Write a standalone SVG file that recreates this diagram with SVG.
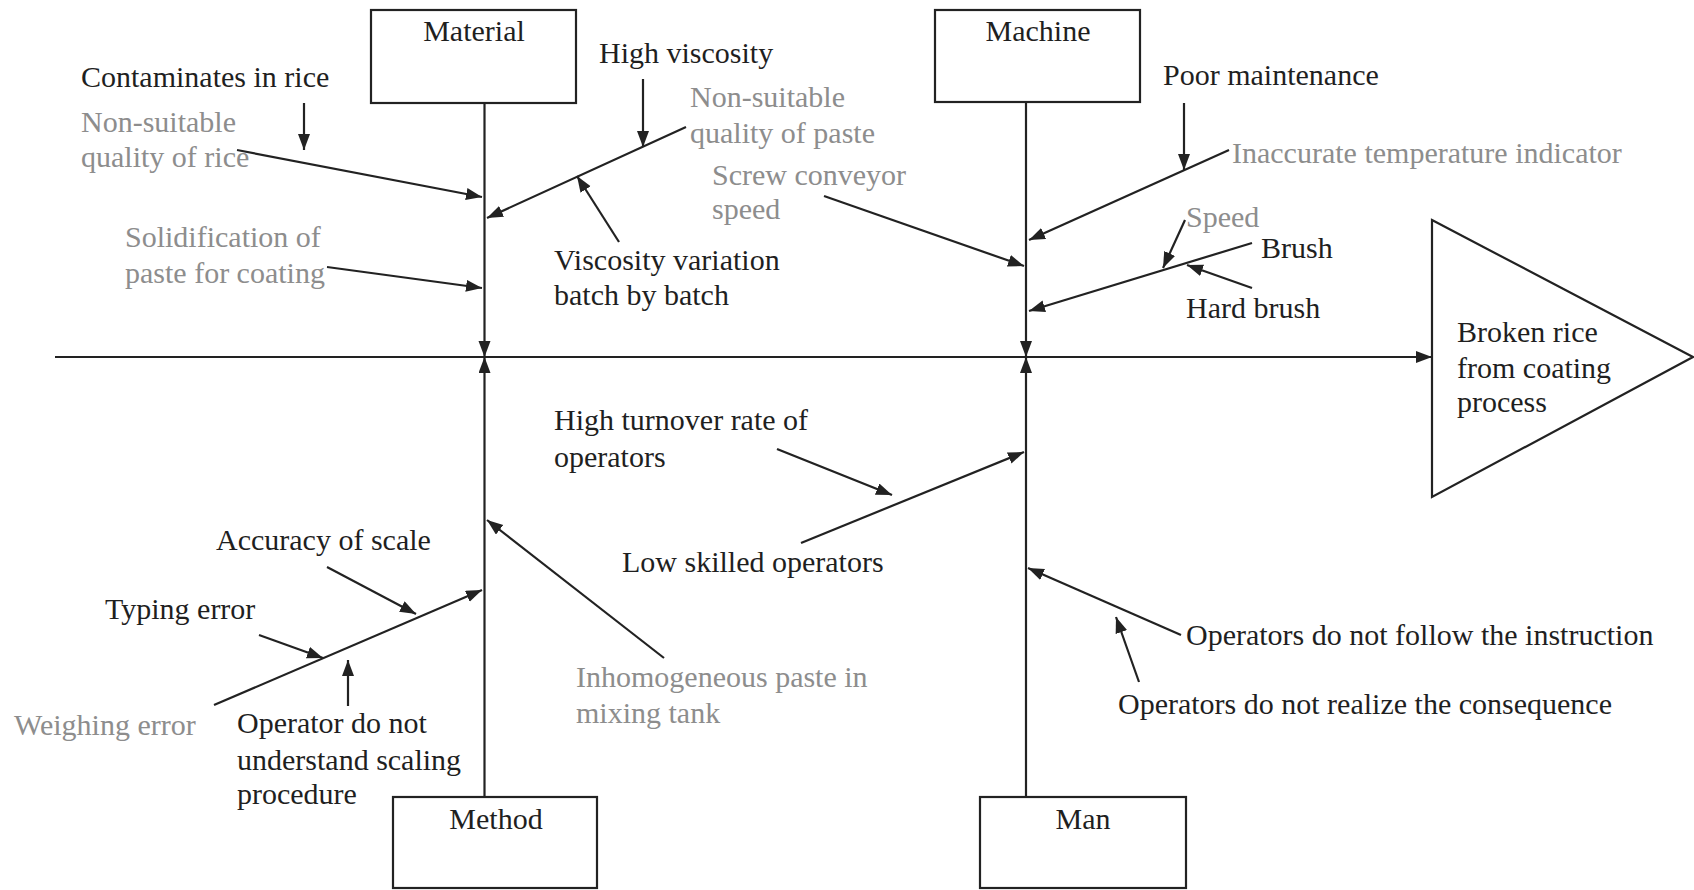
<svg xmlns="http://www.w3.org/2000/svg" width="1694" height="890" viewBox="0 0 1694 890">
  <style>
    text { font-family: "Liberation Serif", "Times New Roman", serif; font-size: 30px; fill: #1f1f1f; }
    text.grey { fill: #8d8d8d; }
    text.mid { text-anchor: middle; }
    .box { fill: #ffffff; stroke: #222; stroke-width: 2.2; }
    .ln { fill: none; stroke: #222; stroke-width: 2.2; }
    .arr { fill: none; stroke: #222; stroke-width: 2.2; marker-end: url(#head); }
  </style>
  <defs>
    <marker id="head" markerUnits="userSpaceOnUse" markerWidth="17" markerHeight="13" refX="16" refY="6" orient="auto">
      <path d="M0,0 L16,6 L0,12 z" fill="#222"/>
    </marker>
  </defs>
  <rect width="1694" height="890" fill="#ffffff"/>

  <!-- connectors: spine, category bones, sub-cause branches and arrows -->
  <g id="connectors">
    <line class="arr" x1="55" y1="357" x2="1432" y2="357"/>
    <line class="arr" x1="484.5" y1="103" x2="484.5" y2="357"/>
    <line class="arr" x1="484.5" y1="797" x2="484.5" y2="357"/>
    <line class="arr" x1="1026" y1="102" x2="1026" y2="357"/>
    <line class="arr" x1="1026" y1="797" x2="1026" y2="357"/>

    <!-- Material -->
    <line class="arr" x1="304" y1="103" x2="304" y2="150"/>
    <line class="arr" x1="237" y1="150" x2="482" y2="197"/>
    <line class="arr" x1="327" y1="267" x2="482" y2="288"/>
    <line class="arr" x1="686" y1="127" x2="487" y2="218"/>
    <line class="arr" x1="643" y1="79" x2="643" y2="147"/>
    <line class="arr" x1="619" y1="242" x2="577" y2="176"/>

    <!-- Machine -->
    <line class="arr" x1="824" y1="196" x2="1024" y2="266"/>
    <line class="arr" x1="1229" y1="150" x2="1029" y2="240"/>
    <line class="arr" x1="1184" y1="103" x2="1184" y2="170"/>
    <line class="arr" x1="1252" y1="243" x2="1029" y2="311"/>
    <line class="arr" x1="1185" y1="220" x2="1163" y2="268"/>
    <line class="arr" x1="1252" y1="288" x2="1187" y2="265"/>

    <!-- Method -->
    <line class="arr" x1="214" y1="705" x2="482" y2="590"/>
    <line class="arr" x1="327" y1="567" x2="416" y2="614"/>
    <line class="arr" x1="259" y1="635" x2="323" y2="658"/>
    <line class="arr" x1="348" y1="706" x2="348" y2="660"/>
    <line class="arr" x1="664" y1="658" x2="487" y2="520"/>

    <!-- Man -->
    <line class="arr" x1="801" y1="543" x2="1024" y2="452"/>
    <line class="arr" x1="777" y1="449" x2="892" y2="495"/>
    <line class="arr" x1="1181" y1="635" x2="1028" y2="568"/>
    <line class="arr" x1="1139" y1="682" x2="1116" y2="617"/>
  </g>

  <!-- category boxes -->
  <g id="material">
    <rect class="box" x="371" y="10" width="205" height="93"/>
    <text class="mid" x="474" y="41">Material</text>
  </g>
  <g id="machine">
    <rect class="box" x="935" y="10" width="205" height="92"/>
    <text class="mid" x="1038" y="41">Machine</text>
  </g>
  <g id="method">
    <rect class="box" x="393" y="797" width="204" height="91"/>
    <text class="mid" x="496" y="829">Method</text>
  </g>
  <g id="man">
    <rect class="box" x="980" y="797" width="206" height="91"/>
    <text class="mid" x="1083" y="829">Man</text>
  </g>

  <!-- effect -->
  <g id="effect">
    <polygon class="box" points="1432,220 1693,357 1432,497"/>
    <text x="1457" y="342">Broken rice</text>
    <text x="1457" y="378">from coating</text>
    <text x="1457" y="412">process</text>
  </g>

  <!-- Material causes -->
  <g id="contaminates"><text x="81" y="87">Contaminates in rice</text></g>
  <g id="rice-quality">
    <text class="grey" x="81" y="132">Non-suitable</text>
    <text class="grey" x="81" y="167">quality of rice</text>
  </g>
  <g id="solidification">
    <text class="grey" x="125" y="247">Solidification of</text>
    <text class="grey" x="125" y="283">paste for coating</text>
  </g>
  <g id="high-viscosity"><text x="599" y="63">High viscosity</text></g>
  <g id="paste-quality">
    <text class="grey" x="690" y="107">Non-suitable</text>
    <text class="grey" x="690" y="143">quality of paste</text>
  </g>
  <g id="viscosity-variation">
    <text x="554" y="270">Viscosity variation</text>
    <text x="554" y="305">batch by batch</text>
  </g>

  <!-- Machine causes -->
  <g id="screw-speed">
    <text class="grey" x="712" y="185">Screw conveyor</text>
    <text class="grey" x="712" y="219">speed</text>
  </g>
  <g id="poor-maintenance"><text x="1163" y="85">Poor maintenance</text></g>
  <g id="temperature-indicator"><text class="grey" x="1232" y="163">Inaccurate temperature indicator</text></g>
  <g id="speed"><text class="grey" x="1186" y="227">Speed</text></g>
  <g id="brush"><text x="1261" y="258">Brush</text></g>
  <g id="hard-brush"><text x="1186" y="318">Hard brush</text></g>

  <!-- Method causes -->
  <g id="accuracy"><text x="216" y="550">Accuracy of scale</text></g>
  <g id="typing"><text x="105" y="619">Typing error</text></g>
  <g id="weighing"><text class="grey" x="14" y="735">Weighing error</text></g>
  <g id="scaling-procedure">
    <text x="237" y="733">Operator do not</text>
    <text x="237" y="770">understand scaling</text>
    <text x="237" y="804">procedure</text>
  </g>
  <g id="inhomogeneous">
    <text class="grey" x="576" y="687">Inhomogeneous paste in</text>
    <text class="grey" x="576" y="723">mixing tank</text>
  </g>

  <!-- Man causes -->
  <g id="turnover">
    <text x="554" y="430">High turnover rate of</text>
    <text x="554" y="467">operators</text>
  </g>
  <g id="low-skilled"><text x="622" y="572">Low skilled operators</text></g>
  <g id="follow-instruction"><text x="1186" y="645">Operators do not follow the instruction</text></g>
  <g id="realize-consequence"><text x="1118" y="714">Operators do not realize the consequence</text></g>
</svg>
